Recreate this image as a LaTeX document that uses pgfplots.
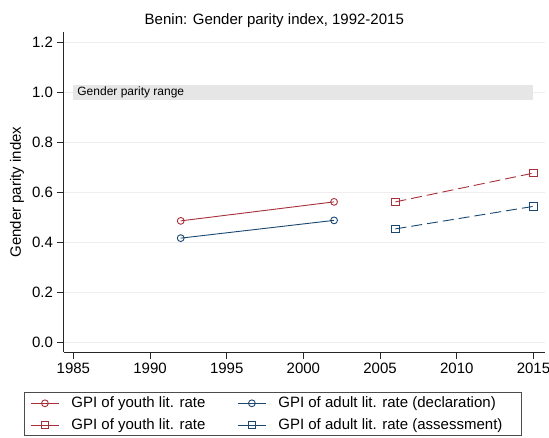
\documentclass[border=0pt]{standalone}
\usepackage{fontspec}
\setmainfont{Liberation Sans}
\usepackage{pgfplots}
\pgfplotsset{compat=1.18}
\usetikzlibrary{calc}

\definecolor{youthred}{RGB}{168,46,58}
\definecolor{adultblue}{RGB}{26,71,111}
\definecolor{bandgray}{RGB}{230,230,230}
\definecolor{gridgray}{RGB}{238,238,238}

\begin{document}
\begin{tikzpicture}
\begin{axis}[
    name=ax,
    scale only axis,
    width=481pt, height=320pt,
    xmin=1984.36, xmax=2015.74,
    ymin=-0.04, ymax=1.24,
    axis x line=bottom, axis y line=left,
    axis line style={-, black!85, line width=0.9pt},
    tick align=outside,
    major tick length=7pt,
    tick style={black!85, line width=0.9pt},
    xtick={1985,1990,...,2015},
    ytick={0,0.2,...,1.2},
    ymajorgrids, major grid style={gridgray, line width=0.9pt},
    /pgf/number format/assume math mode=true,
    xticklabel style={/pgf/number format/.cd, set thousands separator={}},
    yticklabel style={/pgf/number format/.cd, fixed, fixed zerofill, precision=1},
    tick label style={font=\fontsize{15}{17}\selectfont},
    title={Benin: Gender parity index, 1992-2015},
    title style={at={(axis description cs:0.438,1.016)}, anchor=center, font=\fontsize{15}{17}\selectfont},
    ylabel={Gender parity index},
    ylabel style={at={(axis description cs:-0.0966,0.5)}, anchor=center, font=\fontsize{15}{17}\selectfont},
    legend columns=2,
    legend cell align=left,
    legend image code/.code={\draw[mark repeat=2, mark phase=2, #1, solid] plot coordinates {(0pt,0pt) (14pt,0pt) (28pt,0pt)};},
    legend style={at={(axis description cs:-0.082,-0.125)}, anchor=north west,
        draw=black!70, line width=0.8pt, font=\fontsize{15}{17}\selectfont,
        inner xsep=6pt, inner ysep=2.5pt, row sep=5.5pt,
        /tikz/every odd column/.append style={column sep=10pt},
        /tikz/every even column/.append style={column sep=30pt}},
]
% gender parity band
\addplot[fill=bandgray, draw=none, forget plot] coordinates {(1985,0.97) (2015,0.97) (2015,1.03) (1985,1.03)} -- cycle;
\node[anchor=west, font=\fontsize{12}{14}\selectfont, inner sep=0pt] at (axis cs:1985.25,1.0) {Gender parity range};

\addplot[youthred, line width=0.9pt, mark=o, mark size=3.4pt, mark options={solid}] coordinates {
    (1992,0.485) (2002,0.561)
};
\addlegendentry{GPI of youth lit. rate}
\addplot[adultblue, line width=0.9pt, mark=o, mark size=3.4pt, mark options={solid}] coordinates {
    (1992,0.416) (2002,0.487)
};
\addlegendentry{GPI of adult lit. rate (declaration)\hspace*{18pt}}
\addplot[youthred, line width=0.9pt, dash pattern=on 11pt off 5pt, mark=square, mark size=3.6pt, mark options={solid}] coordinates {
    (2006,0.561) (2015,0.676)
};
\addlegendentry{GPI of youth lit. rate}
\addplot[adultblue, line width=0.9pt, dash pattern=on 11pt off 5pt, mark=square, mark size=3.6pt, mark options={solid}] coordinates {
    (2006,0.453) (2015,0.543)
};
\addlegendentry{GPI of adult lit. rate (assessment)}
\end{axis}
\pgfresetboundingbox
\path[use as bounding box] ($(ax.south west)+(-63.5pt,-85pt)$) rectangle ($(ax.north east)+(4.2pt,32pt)$);
\end{tikzpicture}
\end{document}
